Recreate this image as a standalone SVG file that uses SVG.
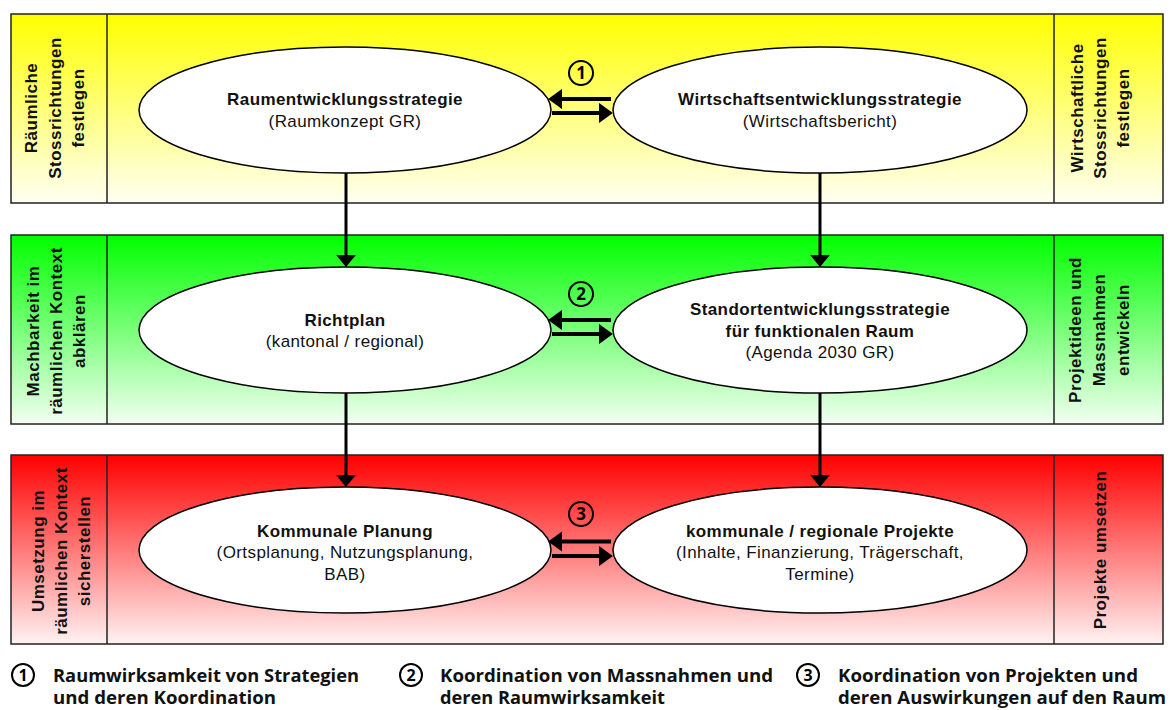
<svg xmlns="http://www.w3.org/2000/svg" width="1170" height="710" viewBox="0 0 1170 710">
<defs>
<linearGradient id="gy" x1="0" y1="0" x2="0" y2="1"><stop offset="0" stop-color="#FFFF00"/><stop offset="1" stop-color="#FFFFF2"/></linearGradient>
<linearGradient id="gg" x1="0" y1="0" x2="0" y2="1"><stop offset="0" stop-color="#00FF00"/><stop offset="1" stop-color="#F2FFF2"/></linearGradient>
<linearGradient id="gr" x1="0" y1="0" x2="0" y2="1"><stop offset="0" stop-color="#FF0000"/><stop offset="1" stop-color="#FFF2F2"/></linearGradient>
<marker id="ah" markerWidth="3.3" markerHeight="4.8" refX="0" refY="2.4" orient="auto" markerUnits="strokeWidth"><path d="M0,0 L3.3,2.4 L0,4.8 z" fill="#000"/></marker>
<marker id="av" markerWidth="4" markerHeight="6.6" refX="0" refY="3.3" orient="auto" markerUnits="strokeWidth"><path d="M0,0 L4,3.3 L0,6.6 z" fill="#000"/></marker>
</defs>
<style>
.band{stroke:#222;stroke-width:1.5}
.ell{fill:#fff;stroke:#000;stroke-width:1.5}
.t{font-family:"Liberation Sans",Arial,sans-serif;font-size:17px;letter-spacing:0.4px;fill:#111;text-anchor:middle}
.b{font-weight:bold}
.side{font-family:"Liberation Sans",Arial,sans-serif;font-size:17px;letter-spacing:0.5px;font-weight:bold;fill:#111;text-anchor:middle}
.hc{stroke:#000;stroke-width:4.2;fill:none;marker-end:url(#ah)}
.vc{stroke:#000;stroke-width:3;fill:none;marker-end:url(#av)}
.num{fill:none;stroke:#000;stroke-width:2}
.nt{font-family:"Open Sans","Lato",sans-serif;font-weight:bold;font-size:17px;fill:#000;text-anchor:middle}
.leg{font-family:"Open Sans","Lato",sans-serif;font-weight:bold;font-size:17px;fill:#111}
</style>
<g id="band-top">
<rect class="band" x="11" y="14" width="1152" height="189" fill="url(#gy)"/>
<line class="band" x1="107" y1="14" x2="107" y2="203"/>
<line class="band" x1="1054" y1="14" x2="1054" y2="203"/>
<text class="side" transform="translate(37,108) rotate(-90)">Räumliche</text>
<text class="side" transform="translate(60.5,108) rotate(-90)">Stossrichtungen</text>
<text class="side" transform="translate(84,108) rotate(-90)">festlegen</text>
<text class="side" transform="translate(1083,108) rotate(-90)">Wirtschaftliche</text>
<text class="side" transform="translate(1106,108) rotate(-90)">Stossrichtungen</text>
<text class="side" transform="translate(1129,108) rotate(-90)">festlegen</text>
</g>
<g id="band-mid">
<rect class="band" x="11" y="235" width="1152" height="189" fill="url(#gg)"/>
<line class="band" x1="107" y1="235" x2="107" y2="424"/>
<line class="band" x1="1054" y1="235" x2="1054" y2="424"/>
<text class="side" transform="translate(39,331) rotate(-90)">Machbarkeit im</text>
<text class="side" transform="translate(62,331) rotate(-90)">räumlichen Kontext</text>
<text class="side" transform="translate(85,331) rotate(-90)">abklären</text>
<text class="side" transform="translate(1081,330) rotate(-90)">Projektideen und</text>
<text class="side" transform="translate(1105,330) rotate(-90)">Massnahmen</text>
<text class="side" transform="translate(1129,330) rotate(-90)">entwickeln</text>
</g>
<g id="band-bot">
<rect class="band" x="11" y="455" width="1152" height="189" fill="url(#gr)"/>
<line class="band" x1="107" y1="455" x2="107" y2="644"/>
<line class="band" x1="1054" y1="455" x2="1054" y2="644"/>
<text class="side" transform="translate(44,551) rotate(-90)">Umsetzung im</text>
<text class="side" transform="translate(67,551) rotate(-90)">räumlichen Kontext</text>
<text class="side" transform="translate(90,551) rotate(-90)">sicherstellen</text>
<text class="side" transform="translate(1106,550) rotate(-90)">Projekte umsetzen</text>
</g>
<g id="connectors">
<line class="vc" x1="346" y1="173" x2="346" y2="255"/>
<line class="vc" x1="820" y1="173" x2="820" y2="255"/>
<line class="vc" x1="346" y1="393" x2="346" y2="475"/>
<line class="vc" x1="820" y1="393" x2="820" y2="475"/>
<line class="hc" x1="611" y1="99" x2="562" y2="99"/>
<line class="hc" x1="552" y1="113" x2="599" y2="113"/>
<line class="hc" x1="611" y1="320" x2="562" y2="320"/>
<line class="hc" x1="552" y1="334" x2="599" y2="334"/>
<line class="hc" x1="611" y1="541.5" x2="562" y2="541.5"/>
<line class="hc" x1="552" y1="556" x2="599" y2="556"/>
</g>
<g id="n1">
<ellipse class="ell" cx="345" cy="110" rx="206" ry="63"/>
<text class="t b" x="345" y="105">Raumentwicklungsstrategie</text>
<text class="t" x="345" y="127">(Raumkonzept GR)</text>
</g>
<g id="n2">
<ellipse class="ell" cx="820" cy="110" rx="207" ry="63"/>
<text class="t b" x="820" y="105">Wirtschaftsentwicklungsstrategie</text>
<text class="t" x="820" y="127">(Wirtschaftsbericht)</text>
</g>
<g id="n3">
<ellipse class="ell" cx="345" cy="330" rx="206" ry="63"/>
<text class="t b" x="345" y="326">Richtplan</text>
<text class="t" x="345" y="347">(kantonal / regional)</text>
</g>
<g id="n4">
<ellipse class="ell" cx="820" cy="330" rx="207" ry="63"/>
<text class="t b" x="820" y="315">Standortentwicklungsstrategie</text>
<text class="t b" x="820" y="337">für funktionalen Raum</text>
<text class="t" x="820" y="358">(Agenda 2030 GR)</text>
</g>
<g id="n5">
<ellipse class="ell" cx="345" cy="550" rx="206" ry="63"/>
<text class="t b" x="345" y="537">Kommunale Planung</text>
<text class="t" x="345" y="558">(Ortsplanung, Nutzungsplanung,</text>
<text class="t" x="345" y="580">BAB)</text>
</g>
<g id="n6">
<ellipse class="ell" cx="820" cy="550" rx="207" ry="63"/>
<text class="t b" x="820" y="537">kommunale / regionale Projekte</text>
<text class="t" x="820" y="558">(Inhalte, Finanzierung, Trägerschaft,</text>
<text class="t" x="820" y="580">Termine)</text>
</g>
<g id="marks">
<circle class="num" cx="581" cy="73" r="12"/><text class="nt" x="581" y="79">1</text>
<circle class="num" cx="581" cy="294" r="12"/><text class="nt" x="581" y="300">2</text>
<circle class="num" cx="581" cy="514" r="12"/><text class="nt" x="581" y="520">3</text>
</g>
<g id="legend">
<circle class="num" cx="23" cy="675" r="11"/><text class="nt" x="23" y="681" style="font-size:16px">1</text>
<text class="leg" x="53" y="682" textLength="306" lengthAdjust="spacingAndGlyphs">Raumwirksamkeit von Strategien</text>
<text class="leg" x="53" y="704" textLength="223" lengthAdjust="spacingAndGlyphs">und deren Koordination</text>
<circle class="num" cx="411" cy="675" r="11"/><text class="nt" x="411" y="681" style="font-size:16px">2</text>
<text class="leg" x="440" y="682" textLength="333" lengthAdjust="spacingAndGlyphs">Koordination von Massnahmen und</text>
<text class="leg" x="440" y="704" textLength="225" lengthAdjust="spacingAndGlyphs">deren Raumwirksamkeit</text>
<circle class="num" cx="808" cy="675" r="11"/><text class="nt" x="808" y="681" style="font-size:16px">3</text>
<text class="leg" x="838" y="682" textLength="300" lengthAdjust="spacingAndGlyphs">Koordination von Projekten und</text>
<text class="leg" x="838" y="704" textLength="328" lengthAdjust="spacingAndGlyphs">deren Auswirkungen auf den Raum</text>
</g>
</svg>
